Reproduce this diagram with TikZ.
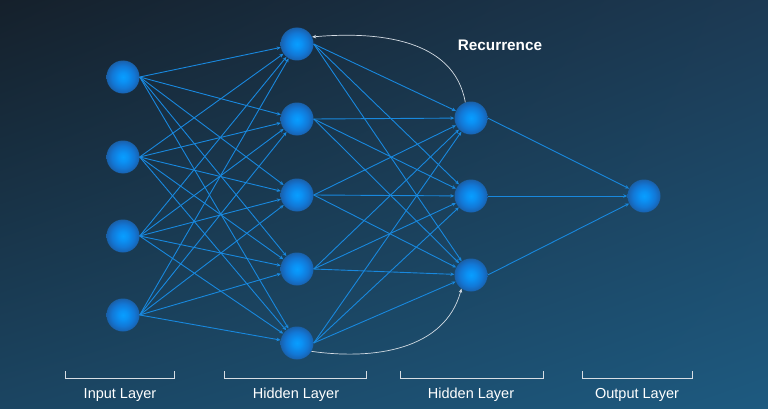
\documentclass[tikz,border=0pt]{standalone}
\usepackage{fontspec}
\setmainfont{Liberation Sans}
\usetikzlibrary{arrows.meta,shadings}

\definecolor{bgtl}{HTML}{15202B}
\definecolor{bgtr}{HTML}{1C3A54}
\definecolor{bgbl}{HTML}{1B4562}
\definecolor{bgbr}{HTML}{1D5A80}
\definecolor{linkblue}{RGB}{24,136,222}
\definecolor{recurgrey}{HTML}{D4DCE4}
\definecolor{bracketgrey}{HTML}{D8DEE4}

\pgfdeclareradialshading{neuronball}{\pgfpoint{0bp}{0bp}}{rgb(0bp)=(0.03,0.62,1.0); rgb(7bp)=(0.04,0.57,0.96); rgb(17bp)=(0.07,0.47,0.84); rgb(23bp)=(0.09,0.40,0.72); rgb(25bp)=(0.10,0.38,0.66); rgb(50bp)=(0.10,0.38,0.66)}

\begin{document}
\begin{tikzpicture}
  [x=1pt,y=1pt,
   neuron/.style={circle,minimum size=33pt,inner sep=0pt,shade,shading=neuronball},
   link/.style={draw=linkblue,line width=0.9pt,-{Stealth[length=4pt,width=3.5pt]}},
   recur/.style={draw=recurgrey,line width=0.7pt,-{Stealth[length=4pt,width=3.5pt]}},
   bracket/.style={draw=bracketgrey,line width=0.9pt},
   layer/.style={text=white,font=\fontsize{14.5}{16}\selectfont,anchor=base}]

  % background
  \shade[upper left=bgtl,upper right=bgtr,lower left=bgbl,lower right=bgbr]
    (0,0) rectangle (768,408);

  % input layer
  \node[neuron] (in1) at (123,331) {};
  \node[neuron] (in2) at (123,251) {};
  \node[neuron] (in3) at (123,172) {};
  \node[neuron] (in4) at (123,93)  {};

  % first hidden layer
  \node[neuron] (ha1) at (297,364) {};
  \node[neuron] (ha2) at (297,289) {};
  \node[neuron] (ha3) at (297,213) {};
  \node[neuron] (ha4) at (297,139) {};
  \node[neuron] (ha5) at (297,65)  {};

  % second hidden layer
  \node[neuron] (hb1) at (471,290) {};
  \node[neuron] (hb2) at (471,212) {};
  \node[neuron] (hb3) at (471,133) {};

  % output layer
  \node[neuron] (out1) at (644,212) {};

  \foreach \from in {1,...,4}
    \foreach \to in {1,...,5}
      \draw[link] (in\from.east) -- (ha\to);
  \foreach \from in {1,...,5}
    \foreach \to in {1,...,3}
      \draw[link] (ha\from.east) -- (hb\to);
  \foreach \from in {1,...,3}
    \draw[link] (hb\from.east) -- (out1);

  % recurrence
  \draw[recur] (hb1.110) to[out=100,in=5] (ha1.25);
  \draw[recur] (ha5.-30) to[out=-8,in=-105] (hb3.235);
  \node[text=white,font=\bfseries\fontsize{15.3}{17}\selectfont,anchor=base] (rec) at (500,357) {Recurrence};

  % layer labels
  \foreach \l/\r in {65/174,224/366,400/543,582/692}
    \draw[bracket] (\l,37) -- (\l,30) -- (\r,30) -- (\r,37);
  \node[layer] (lin)  at (120,10) {Input Layer};
  \node[layer] (lha)  at (296,10) {Hidden Layer};
  \node[layer] (lhb)  at (471,10) {Hidden Layer};
  \node[layer] (lout) at (637,10) {Output Layer};
\end{tikzpicture}
\end{document}
